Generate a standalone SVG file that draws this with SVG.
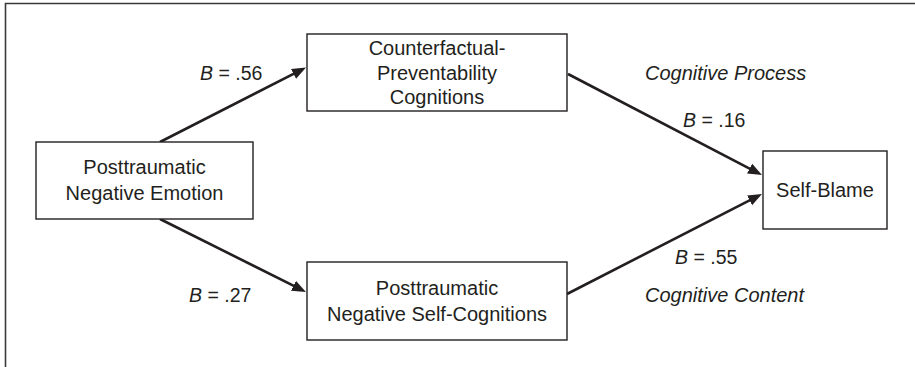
<svg xmlns="http://www.w3.org/2000/svg" width="915" height="367" viewBox="0 0 915 367">
<style>
.box{fill:#fff;stroke:#231f20;stroke-width:1.4}
.t{font-family:"Liberation Sans",Arial,sans-serif;font-size:20px;fill:#231f20;text-anchor:middle}
.lab{font-family:"Liberation Sans",Arial,sans-serif;font-size:19.5px;fill:#231f20}
.it{font-style:italic}
.lbl{font-family:"Liberation Sans",Arial,sans-serif;font-size:20px;font-style:italic;fill:#231f20}
.edge{stroke:#231f20;stroke-width:2.6;fill:none;marker-end:url(#arr)}
.frame{stroke:#3a3a3a;stroke-width:1.6;fill:none}
</style>
<defs>
<marker id="arr" markerUnits="userSpaceOnUse" markerWidth="14" markerHeight="12" refX="6" refY="5.5" orient="auto">
<path d="M0,0 L14,5.5 L0,11 z" fill="#231f20"/>
</marker>
</defs>
<rect width="915" height="367" fill="#fff"/>
<path class="frame" d="M5.5,367 V3.5 H915"/>
<g id="connectors">
<line class="edge" x1="160" y1="142" x2="298.9" y2="71.1"/>
<line class="edge" x1="160" y1="219" x2="298.8" y2="288.4"/>
<line class="edge" x1="568" y1="74" x2="754.9" y2="171.3"/>
<line class="edge" x1="567" y1="294" x2="754.9" y2="197.6"/>
</g>
<g id="emotion">
<rect class="box" x="36" y="142" width="217" height="77"/>
<text class="t" x="144.5" y="174">Posttraumatic</text>
<text class="t" x="144.5" y="200">Negative Emotion</text>
</g>
<g id="counterfactual">
<rect class="box" x="307" y="34" width="260" height="77"/>
<text class="t" x="437" y="55">Counterfactual-</text>
<text class="t" x="437" y="80">Preventability</text>
<text class="t" x="437" y="104">Cognitions</text>
</g>
<g id="selfcog">
<rect class="box" x="307" y="262" width="260" height="78"/>
<text class="t" x="437" y="295">Posttraumatic</text>
<text class="t" x="437" y="321">Negative Self-Cognitions</text>
</g>
<g id="selfblame">
<rect class="box" x="763" y="151" width="124" height="78"/>
<text class="t" x="825" y="197">Self-Blame</text>
</g>
<g id="labels">
<text class="lab" x="200" y="80"><tspan class="it">B</tspan> = .56</text>
<text class="lab" x="189" y="302"><tspan class="it">B</tspan> = .27</text>
<text class="lab" x="683" y="127"><tspan class="it">B</tspan> = .16</text>
<text class="lab" x="675" y="264"><tspan class="it">B</tspan> = .55</text>
<text class="lbl" x="645" y="80">Cognitive Process</text>
<text class="lbl" x="645" y="302">Cognitive Content</text>
</g>
</svg>
